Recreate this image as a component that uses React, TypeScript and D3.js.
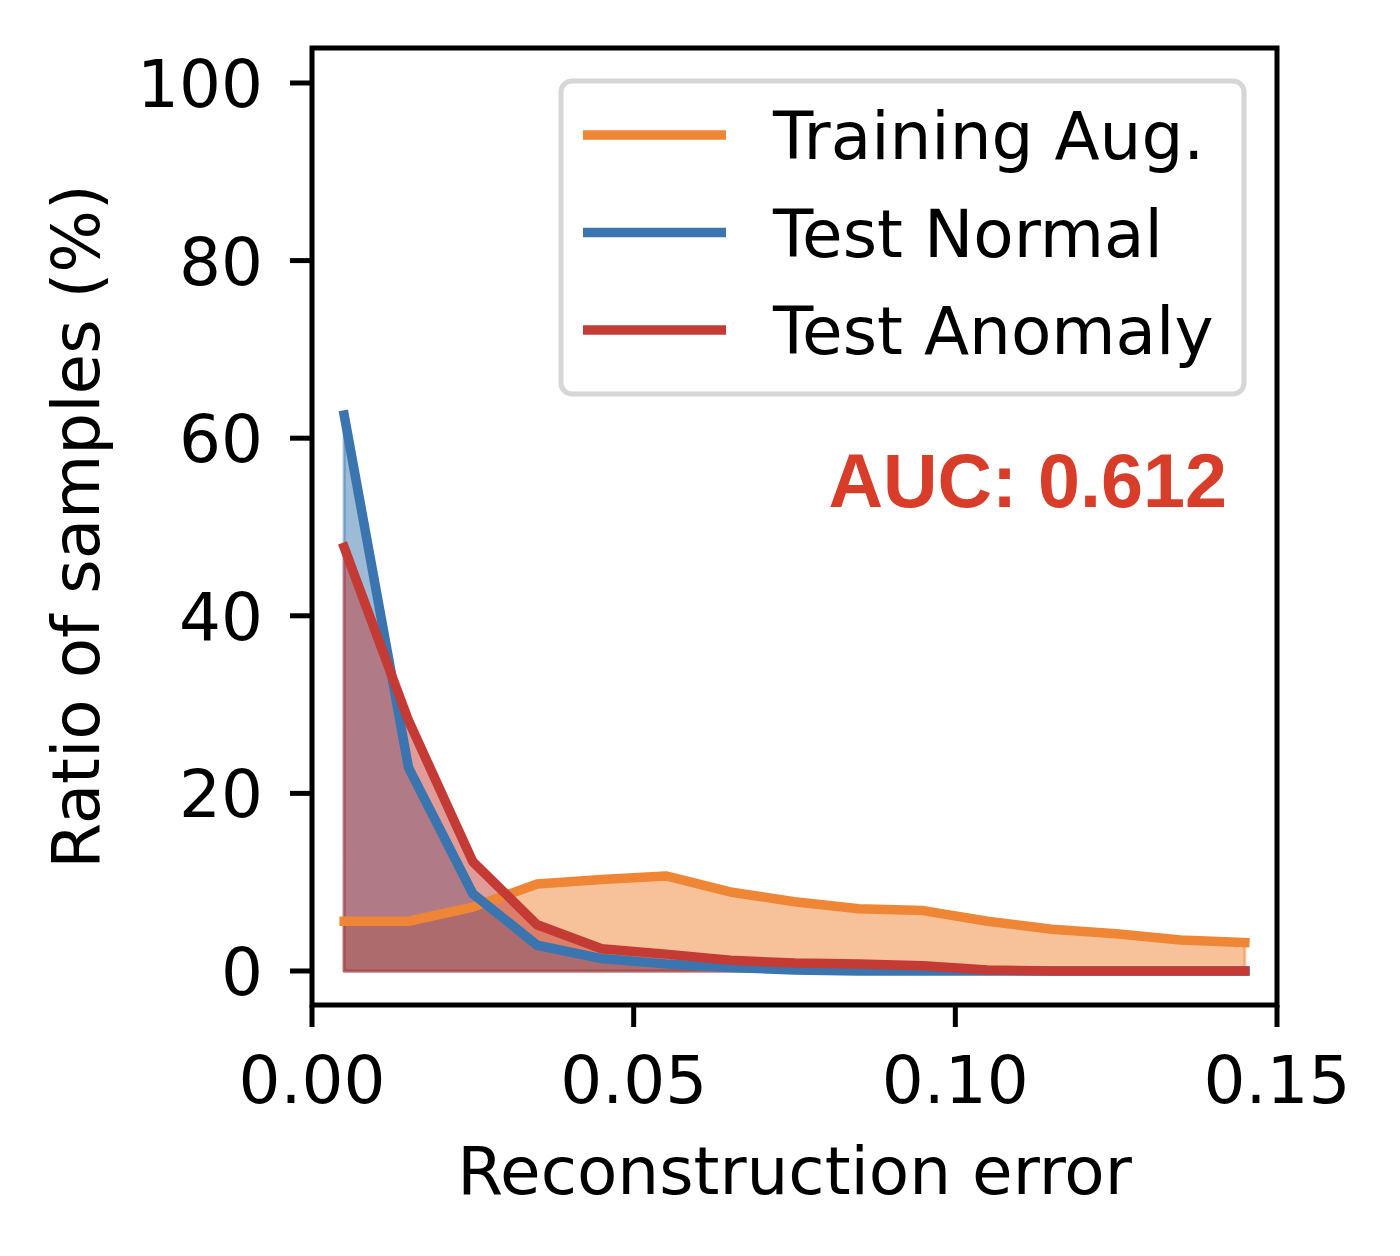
import React from 'react';
import * as d3 from 'd3';

// Reconstruction-error histogram (bin centres) and ratio of samples (%)
const binCenters = [
  0.005, 0.015, 0.025, 0.035, 0.045, 0.055, 0.065, 0.075, 0.085, 0.095, 0.105, 0.115, 0.125,
  0.135, 0.145,
];
const trainingAug = [5.6, 5.6, 7.2, 9.8, 10.3, 10.7, 8.9, 7.8, 7.0, 6.8, 5.6, 4.7, 4.2, 3.5, 3.2];
const testNormal = [62.6, 22.9, 8.7, 2.9, 1.4, 0.8, 0.4, 0.1, 0, 0, 0, 0, 0, 0, 0];
const testAnomaly = [47.7, 28.2, 12.3, 5.2, 2.5, 1.9, 1.2, 0.9, 0.8, 0.6, 0.1, 0, 0, 0, 0];

const seriesNames = ['Training Aug.', 'Test Normal', 'Test Anomaly'];
const seriesColors = ['#ef8636', '#3b75af', '#c43a35'];
const seriesValues = [trainingAug, testNormal, testAnomaly];

const xTicks = [0, 0.05, 0.1, 0.15];
const yTicks = [0, 20, 40, 60, 80, 100];
const aucLabel = 'AUC: 0.612';

const W = 1400;
const H = 1256;
const plot = { left: 312, right: 1277, top: 48, bottom: 1005 };

const font = '"DejaVu Sans", sans-serif';

const App: React.FC = () => {
  const x = d3.scaleLinear().domain([0, 0.15]).range([plot.left, plot.right]);
  const y = d3.scaleLinear().domain([-3.83, 103.94]).range([plot.bottom, plot.top]);

  const series = seriesValues.map((vals, i) => ({
    name: seriesNames[i],
    color: seriesColors[i],
    points: vals.map((v, j) => ({ x: binCenters[j], v })),
  }));

  const area = d3
    .area<{ x: number; v: number }>()
    .x(d => x(d.x))
    .y0(y(0))
    .y1(d => y(d.v));

  const line = d3
    .line<{ x: number; v: number }>()
    .x(d => x(d.x))
    .y(d => y(d.v));

  const tickLen = 22;
  const legendX = 561;
  const legendY = 81;
  const rowGap = 97.5;

  return (
    <svg
      width={W}
      height={H}
      viewBox={`0 0 ${W} ${H}`}
      style={{ position: 'absolute', left: 0, top: 0, background: '#fff' }}
    >
      <rect x={0} y={0} width={W} height={H} fill="#fff" />

      {/* fills */}
      {series.map(s => (
        <path
          key={`fill-${s.name}`}
          d={(area(s.points) || '') + 'Z'}
          fill={s.color}
          fillOpacity={0.5}
          stroke={s.color}
          strokeOpacity={0.5}
          strokeWidth={3}
          strokeLinejoin="round"
        />
      ))}

      {/* lines */}
      {series.map(s => (
        <path
          key={`line-${s.name}`}
          d={line(s.points) || ''}
          fill="none"
          stroke={s.color}
          strokeWidth={9.5}
          strokeLinecap="square"
          strokeLinejoin="round"
        />
      ))}

      {/* spines */}
      <rect
        x={plot.left}
        y={plot.top}
        width={plot.right - plot.left}
        height={plot.bottom - plot.top}
        fill="none"
        stroke="#000"
        strokeWidth={5}
      />

      {/* y axis */}
      {yTicks.map(t => (
        <g key={`yt-${t}`}>
          <line
            x1={plot.left - tickLen}
            x2={plot.left}
            y1={y(t)}
            y2={y(t)}
            stroke="#000"
            strokeWidth={5}
          />
          <text
            x={plot.left - tickLen - 27}
            y={y(t) + 24}
            textAnchor="end"
            fontFamily={font}
            fontSize={66}
            fill="#000"
          >
            {t}
          </text>
        </g>
      ))}

      {/* x axis */}
      {xTicks.map(t => (
        <g key={`xt-${t}`}>
          <line
            x1={x(t)}
            x2={x(t)}
            y1={plot.bottom}
            y2={plot.bottom + tickLen}
            stroke="#000"
            strokeWidth={5}
          />
          <text
            x={x(t)}
            y={1103}
            textAnchor="middle"
            fontFamily={font}
            fontSize={66}
            fill="#000"
          >
            {t.toFixed(2)}
          </text>
        </g>
      ))}

      <text
        x={(plot.left + plot.right) / 2}
        y={1194}
        textAnchor="middle"
        fontFamily={font}
        fontSize={66}
        fill="#000"
      >
        Reconstruction error
      </text>
      <text
        transform={`translate(99, ${(plot.top + plot.bottom) / 2}) rotate(-90)`}
        textAnchor="middle"
        fontFamily={font}
        fontSize={66}
        fill="#000"
      >
        Ratio of samples (%)
      </text>

      {/* legend */}
      <rect
        x={legendX}
        y={legendY}
        width={683}
        height={313}
        rx={11}
        fill="#fff"
        fillOpacity={0.85}
        stroke="#d6d6d6"
        strokeWidth={5}
      />
      {series.map((s, i) => {
        const ly = 135 + i * rowGap;
        return (
          <g key={`lg-${s.name}`}>
            <line x1={583} x2={726} y1={ly} y2={ly} stroke={s.color} strokeWidth={9.5} />
            <text x={773} y={ly + 24} fontFamily={font} fontSize={66} fill="#000">
              {s.name}
            </text>
          </g>
        );
      })}

      {/* AUC annotation */}
      <text
        x={1227}
        y={507}
        textAnchor="end"
        fontFamily='"Liberation Sans", Arial, sans-serif'
        fontWeight="bold"
        fontSize={75.5}
        fill="#d83d2a"
      >
        {aucLabel}
      </text>
    </svg>
  );
};

export default App;
